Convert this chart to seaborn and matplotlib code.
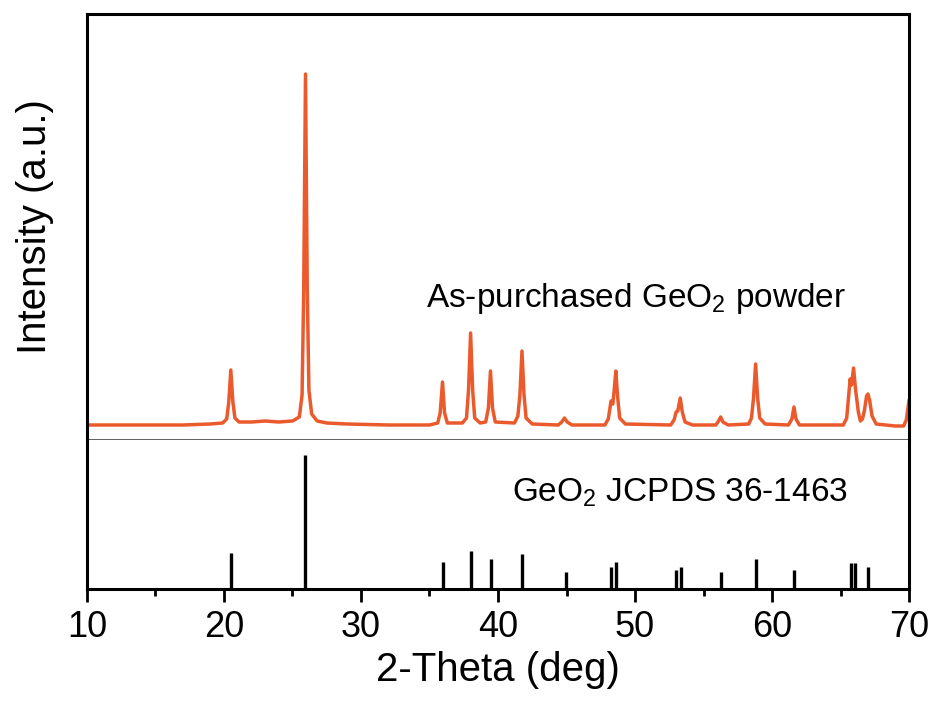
import numpy as np
import pandas as pd
import seaborn as sns
import matplotlib.pyplot as plt

theta = [10.0, 14.0, 17.0, 19.0, 19.9, 20.2, 20.35, 20.5, 20.65, 20.8, 21.1,
         22.0, 23.0, 24.0, 25.0, 25.5, 25.7, 25.82, 25.95, 26.08, 26.2, 26.4,
         26.8, 27.5, 29.0, 32.0, 35.0, 35.6, 35.78, 35.95, 36.1, 36.3,
         37.4, 37.7, 37.85, 38.0, 38.15, 38.3, 38.7, 39.1, 39.3, 39.45, 39.6,
         39.8, 41.2, 41.45, 41.6, 41.75, 41.9, 42.05, 42.5, 44.4, 44.65, 44.85,
         45.05, 45.4, 47.8, 48.05, 48.25, 48.38, 48.48, 48.6, 48.72, 48.88,
         49.3, 52.6, 52.85, 53.0, 53.12, 53.3, 53.45, 53.65, 54.2, 55.9, 56.1,
         56.25, 56.42, 56.8, 58.3, 58.5, 58.65, 58.8, 58.95, 59.1, 59.5, 61.2,
         61.45, 61.6, 61.75, 62.0, 65.2, 65.45, 65.6, 65.7, 65.8, 65.95, 66.1,
         66.3, 66.45, 66.6, 66.75, 66.9, 67.0, 67.12, 67.3, 67.6, 69.0, 69.6,
         69.8, 69.9, 70.0]
intensity = [15, 15, 15, 16, 17, 21, 38, 70, 38, 22, 18,
             18, 19, 18, 19, 23, 45, 150, 366, 150, 50, 26,
             19, 17, 16, 15, 15, 17, 27, 58, 27, 17,
             17, 22, 50, 107, 50, 22, 17, 18, 32, 69, 32,
             18, 17, 24, 45, 89, 45, 22, 16, 15, 18, 22,
             18, 15, 15, 21, 39, 36, 50, 69, 45, 22,
             16, 15, 20, 28, 29, 42, 28, 18, 15, 15, 19,
             23, 18, 15, 16, 22, 42, 76, 42, 22, 16, 15,
             21, 33, 21, 15, 15, 22, 45, 61, 55, 72, 50,
             28, 19, 21, 30, 44, 46, 40, 24, 16, 14, 14,
             20, 30, 40]

# JCPDS 36-1463 reference lines
ref_pos = [20.49, 25.91, 35.96, 38.00, 39.49, 41.78, 44.94, 48.25, 48.64,
           52.99, 53.33, 56.28, 58.83, 61.63, 65.74, 66.06, 67.03]
ref_int = [27, 100, 20, 28, 22, 26, 13, 16, 20, 14, 16, 13, 22, 14, 19, 19, 16]

orange = '#EB5A2D'

sns.set_theme(style='white')
plt.rcParams['font.family'] = ['Liberation Sans', 'DejaVu Sans']
plt.rcParams['mathtext.fontset'] = 'custom'
plt.rcParams['mathtext.rm'] = 'Liberation Sans'
plt.rcParams['text.color'] = 'black'
plt.rcParams['axes.labelcolor'] = 'black'
plt.rcParams['xtick.color'] = 'black'

fig = plt.figure(figsize=(9.36, 7.04), dpi=100)
ax1 = fig.add_axes([0.0929, 0.375, 0.8783, 0.605])
ax2 = fig.add_axes([0.0929, 0.1634, 0.8783, 0.2116], sharex=ax1)

df = pd.DataFrame({'theta': theta, 'intensity': intensity})
sns.lineplot(data=df, x='theta', y='intensity', ax=ax1, color=orange,
             linewidth=2.5, sort=False)
ax1.set_xlim(10, 70)
ax1.set_ylim(0, 426)
ax1.set_yticks([])
ax1.set_xlabel('')
ax1.set_ylabel('Intensity (a.u.)', fontsize=29, labelpad=24)
ax1.tick_params(axis='x', bottom=False, labelbottom=False)
ax1.text(50.1, 133, r'As-purchased GeO$\mathregular{_2}$ powder', fontsize=24,
         ha='center', va='baseline')

ax2.vlines(ref_pos, 0, ref_int, color='black', linewidth=2.4)
ax2.set_ylim(0, 111)
ax2.set_yticks([])
ax2.set_xticks(range(10, 71, 10))
ax2.set_xticks(range(15, 70, 10), minor=True)
ax2.set_xlabel('2-Theta (deg)', fontsize=29, labelpad=4)
ax2.tick_params(axis='x', which='major', direction='out', length=9.5,
                width=2, labelsize=26, pad=6, bottom=True)
ax2.tick_params(axis='x', which='minor', direction='out', length=5,
                width=2, bottom=True)
ax2.text(53.3, 64.8, r'GeO$\mathregular{_2}$ JCPDS 36-1463', fontsize=24,
         ha='center', va='baseline')

for ax in (ax1, ax2):
    for s in ax.spines.values():
        s.set_linewidth(2.2)
        s.set_color('black')
ax1.spines['bottom'].set_linewidth(1.2)
ax1.spines['bottom'].set_color('#444444')
ax2.spines['top'].set_visible(False)

fig.savefig('out.png', dpi=100)
